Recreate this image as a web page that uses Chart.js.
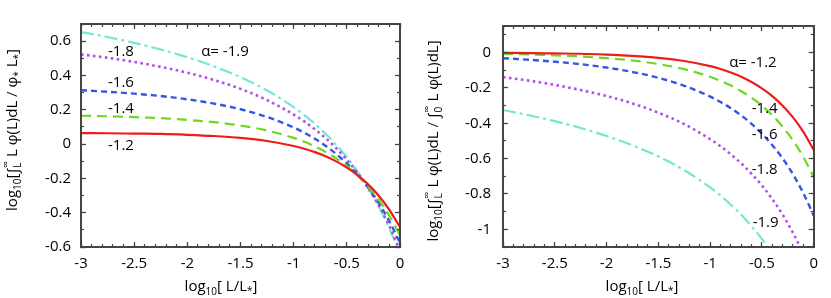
<!DOCTYPE html>
<html><head><meta charset="utf-8">
<script src="https://cdn.jsdelivr.net/npm/chart.js@4/dist/chart.umd.min.js"></script>
<style>
html,body{margin:0;padding:0;background:#fff;width:831px;height:298px;overflow:hidden}
#c1{position:absolute;left:0;top:0}
#c2{position:absolute;left:420px;top:0}
</style></head><body>
<canvas id="c1" width="420" height="298"></canvas>
<canvas id="c2" width="411" height="298"></canvas>
<script>
// x: log10[L/L*]
const logL = [-3,-2.75,-2.5,-2.25,-2,-1.75,-1.5,-1.25,-1,-0.9,-0.8,-0.7,-0.6,-0.5,-0.4,-0.3,-0.2,-0.1,0];
const alphas = ['-1.2','-1.4','-1.6','-1.8','-1.9'];

// Left panel: log10[ int_L^inf L phi(L) dL / (phi* L*) ]
const leftA12 = [0.064,0.063,0.061,0.059,0.054,0.047,0.036,0.018,-0.011,-0.027,-0.047,-0.071,-0.101,-0.137,-0.181,-0.235,-0.301,-0.383,-0.485];
const leftA14 = [0.165,0.162,0.157,0.151,0.141,0.128,0.108,0.079,0.036,0.013,-0.014,-0.046,-0.083,-0.128,-0.182,-0.247,-0.324,-0.418,-0.532];
const leftA16 = [0.314,0.305,0.294,0.280,0.261,0.236,0.203,0.158,0.097,0.066,0.031,-0.010,-0.058,-0.113,-0.178,-0.253,-0.343,-0.450,-0.577];
const leftA18 = [0.523,0.503,0.479,0.450,0.416,0.374,0.322,0.256,0.172,0.132,0.086,0.035,-0.024,-0.091,-0.167,-0.255,-0.358,-0.478,-0.619];
const leftA19 = [0.653,0.624,0.590,0.551,0.506,0.453,0.390,0.312,0.215,0.169,0.118,0.060,-0.004,-0.077,-0.160,-0.255,-0.364,-0.491,-0.639];

// Right panel: log10[ int_L^inf L phi dL / int_0^inf L phi dL ]
const rightA12 = [-0.002,-0.003,-0.005,-0.007,-0.012,-0.019,-0.030,-0.048,-0.077,-0.093,-0.113,-0.137,-0.167,-0.203,-0.247,-0.301,-0.367,-0.449,-0.551];
const rightA14 = [-0.008,-0.011,-0.016,-0.022,-0.032,-0.045,-0.065,-0.094,-0.137,-0.160,-0.187,-0.219,-0.256,-0.301,-0.355,-0.420,-0.497,-0.591,-0.705];
const rightA16 = [-0.032,-0.041,-0.052,-0.066,-0.085,-0.110,-0.143,-0.188,-0.249,-0.280,-0.315,-0.356,-0.404,-0.459,-0.524,-0.599,-0.689,-0.796,-0.923];
const rightA18 = [-0.139,-0.159,-0.183,-0.212,-0.246,-0.288,-0.340,-0.405,-0.490,-0.530,-0.576,-0.627,-0.686,-0.752,-0.829,-0.917,-1.020,-1.140,-1.281];
const rightA19 = [-0.325,-0.355,-0.388,-0.427,-0.472,-0.525,-0.588,-0.666,-0.763,-0.809,-0.861,-0.918,-0.983,-1.055,-1.138,-1.233,-1.343,-1.469,-1.617];

// tick labels
const xTicks = [-3,-2.5,-2,-1.5,-1,-0.5,0];
const leftYTicks = [-0.6,-0.4,-0.2,0,0.2,0.4,0.6];
const rightYTicks = [-1,-0.8,-0.6,-0.4,-0.2,0];

// curve labels (text, x, y in data units)
const leftNotes = [['α= -1.9',-1.646,0.538],['-1.8',-2.624,0.538],['-1.6',-2.624,0.357],['-1.4',-2.624,0.208],['-1.2',-2.624,-0.011]];
const rightNotes = [['α= -1.2',-0.587,-0.055],['-1.4',-0.473,-0.317],['-1.6',-0.473,-0.466],['-1.8',-0.473,-0.661],['-1.9',-0.464,-0.964]];

const FONT = '"Open Sans", "Noto Sans", "DejaVu Sans", sans-serif';
const styles = [
  {color:'#ee1b1b', width:2.2, dash:[]},
  {color:'#6cd91f', width:2.2, dash:[10,6]},
  {color:'#3557e0', width:2.4, dash:[6,4]},
  {color:'#b24fe8', width:2.6, dash:[2.6,3.4]},
  {color:'#74e7d4', width:2.2, dash:[13,4,3,4]}
];
const FRAME = '#444';
const fmt = v => String(Math.round(v*100)/100);
const minorSteps = (lo, hi) => { const out = []; for (let k = Math.ceil(lo*10 - 1e-6); k <= Math.floor(hi*10 + 1e-6); k++) out.push(k/10); return out; };

function drawRich(ctx, segs, cx, cy, rot){
  ctx.save();
  ctx.translate(cx, cy);
  if (rot) ctx.rotate(-Math.PI/2);
  ctx.textAlign = 'left'; ctx.textBaseline = 'alphabetic'; ctx.fillStyle = '#000';
  const widths = segs.map(s => {
    ctx.font = (s.s||15) + 'px ' + FONT;
    let w = ctx.measureText(s.t).width;
    if (s.t2) { ctx.font = (s.s2||10) + 'px ' + FONT; w = Math.max(w, ctx.measureText(s.t2).width); }
    return w;
  });
  const total = widths.reduce((a,b)=>a+b,0);
  let x = -total/2;
  segs.forEach((s,i) => {
    ctx.font = (s.s||15) + 'px ' + FONT;
    ctx.fillText(s.t, x, s.dy||0);
    if (s.t2) { ctx.font = (s.s2||10) + 'px ' + FONT; ctx.fillText(s.t2, x, s.dy2||0); }
    x += widths[i];
  });
  ctx.restore();
}

const textPlugin = {
  id: 'decor',
  afterDraw(chart, args, o) {
    const ctx = chart.ctx, x = chart.scales.x, y = chart.scales.y;
    ctx.save();
    ctx.fillStyle = '#000';
    ctx.font = '15px ' + FONT;
    ctx.textAlign = 'center'; ctx.textBaseline = 'middle';
    o.notes.forEach(n => ctx.fillText(n[0], x.getPixelForValue(n[1]), y.getPixelForValue(n[2])));
    ctx.restore();
    drawRich(ctx, o.yTitle, o.yTitlePos[0], o.yTitlePos[1], true);
    drawRich(ctx, o.xTitle, o.xTitlePos[0], o.xTitlePos[1], false);
  }
};

const xTitle = [{t:'log'},{t:'10',s:10,dy:4},{t:'[ L/L'},{t:'*',s:10,dy:3},{t:']'}];
const leftYTitle = [{t:'log'},{t:'10',s:10,dy:4},{t:'['},{t:'∫',dy:1},{t:'∞',s:10,dy:-8,t2:'L',s2:10,dy2:4},
  {t:' L φ(L)dL / φ'},{t:'*',s:10,dy:4},{t:' L'},{t:'*',s:10,dy:4},{t:']'}];
const rightYTitle = [{t:'log'},{t:'10',s:10,dy:4},{t:'['},{t:'∫',dy:1},{t:'∞',s:10,dy:-8,t2:'L',s2:10,dy2:4},
  {t:' L φ(L)dL / '},{t:'∫',dy:1},{t:'∞',s:10,dy:-8,t2:'0',s2:10,dy2:4},{t:' L φ(L)dL]'}];

// an axis that only draws the frame side and inward tick marks
function tickAxis(axis, position, min, max, tickVals, len, showBorder, fitSize, weight) {
  return {
    type: 'linear', axis: axis, position: position, min: min, max: max, weight: weight,
    grid: {display: true, drawOnChartArea: false, drawTicks: true, tickLength: -len, tickColor: FRAME, tickWidth: 1.2, z: 1},
    border: {display: showBorder, color: FRAME, width: 2, z: 1},
    afterBuildTicks: s => { s.ticks = tickVals.map(v => ({value: v})); },
    afterFit: s => { if (axis === 'x') s.height = fitSize; else s.width = fitSize; },
    ticks: {display: false}
  };
}

function makeChart(canvas, series, yMin, yMax, yTicks, yWidth, padRight, yPad, textOpts) {
  const xMinor = minorSteps(-3, 0), yMinor = minorSteps(yMin, yMax);
  const xMain = tickAxis('x', 'bottom', -3, 0, xTicks, 5, true, 51, 5);
  xMain.ticks = {display: true, padding: 13, color: '#000', font: {family: FONT, size: 15}, maxRotation: 0, autoSkip: false, callback: v => fmt(v)};
  const yMain = tickAxis('y', 'left', yMin, yMax, yTicks, 5, true, yWidth, 5);
  yMain.ticks = {display: true, padding: yPad + 5, color: '#000', font: {family: FONT, size: 15}, autoSkip: false, callback: v => fmt(v)};
  return new Chart(canvas, {
    type: 'line',
    data: {
      datasets: series.map((s, i) => ({
        label: 'α=' + alphas[i],
        data: logL.map((t, j) => ({x: t, y: s[j]})),
        borderColor: styles[i].color,
        borderWidth: styles[i].width,
        borderDash: styles[i].dash,
        pointRadius: 0,
        fill: false,
        cubicInterpolationMode: 'monotone'
      }))
    },
    options: {
      responsive: false, animation: false, devicePixelRatio: 1,
      layout: {padding: {left: 0, right: padRight, top: 3, bottom: 0}},
      plugins: {legend: {display: false}, tooltip: {enabled: false}, decor: textOpts},
      scales: {
        x: xMain,
        xMinor: tickAxis('x', 'bottom', -3, 0, xMinor, 3, false, 0, -5),
        xTop: tickAxis('x', 'top', -3, 0, xTicks, 5, true, 0, 0),
        xTopMinor: tickAxis('x', 'top', -3, 0, xMinor, 3, false, 0, -5),
        y: yMain,
        yMinor: tickAxis('y', 'left', yMin, yMax, yMinor, 3, false, 0, -5),
        yRight: tickAxis('y', 'right', yMin, yMax, yTicks, 5, true, 0, 0),
        yRightMinor: tickAxis('y', 'right', yMin, yMax, yMinor, 3, false, 0, -5)
      }
    },
    plugins: [textPlugin]
  });
}

makeChart(document.getElementById('c1'), [leftA12, leftA14, leftA16, leftA18, leftA19], -0.6, 0.7, leftYTicks, 81, 20, 10,
  {notes: leftNotes, yTitle: leftYTitle, yTitlePos: [17, 130], xTitle: xTitle, xTitlePos: [221, 291]});
makeChart(document.getElementById('c2'), [rightA12, rightA14, rightA16, rightA18, rightA19], -1.1, 0.15, rightYTicks, 83, 11, 12,
  {notes: rightNotes, yTitle: rightYTitle, yTitlePos: [18, 141], xTitle: xTitle, xTitlePos: [222, 291]});
</script>
</body></html>
